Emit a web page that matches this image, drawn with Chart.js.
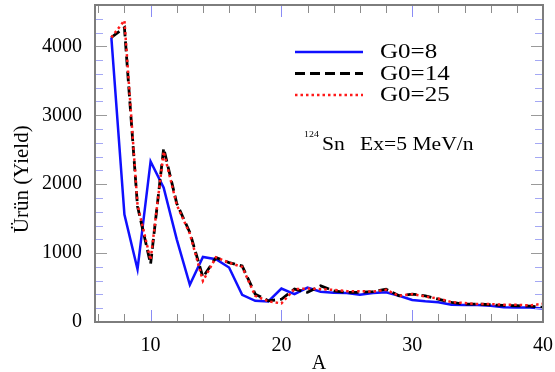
<!DOCTYPE html>
<html>
<head>
<meta charset="utf-8">
<script src="https://cdn.jsdelivr.net/npm/chart.js@4.4.1/dist/chart.umd.min.js"></script>
<style>
  html, body { margin: 0; padding: 0; background: #ffffff; }
  #wrap { width: 555px; height: 372px; position: relative; }
</style>
</head>
<body>
<div id="wrap"><canvas id="yieldChart"></canvas></div>
<script>
// mass number A
const massNumbers = [7, 8, 9, 10, 11, 12, 13, 14, 15, 16, 17, 18, 19, 20, 21, 22, 23,
  24, 25, 26, 27, 28, 29, 30, 31, 32, 33, 34, 35, 36, 37, 38, 39, 40];
// yield for G0=8
const yieldG8 = [4130, 1560, 765, 2330, 1950, 1200, 540, 943, 910, 790, 394, 308, 299,
  486, 404, 500, 440, 425, 420, 395, 420, 430, 380, 320, 300, 285, 250, 245, 245, 235,
  215, 212, 210, 197];
// yield for G0=14
const yieldG14 = [4130, 4270, 1680, 840, 2522, 1720, 1300, 650, 934, 862, 813, 404, 308,
  330, 477, 430, 525, 453, 429, 430, 440, 477, 380, 404, 380, 332, 284, 260, 260, 250,
  240, 236, 230, 212];
// yield for G0=25
const yieldG25 = [4130, 4375, 1700, 900, 2474, 1700, 1280, 596, 940, 860, 800, 380, 300,
  270, 477, 486, 477, 465, 448, 448, 440, 467, 380, 404, 370, 340, 290, 275, 260, 260,
  250, 250, 240, 265];
const seriesNames = ["G0=8", "G0=14", "G0=25"];
const xTickLabels = [10, 20, 30, 40];
const yTickLabels = [0, 1000, 2000, 3000, 4000];

const serif = "'Liberation Serif', 'Times New Roman', serif";

function points(vals) {
  return massNumbers.map((a, i) => ({ x: a, y: vals[i] }));
}

// text drawn a little wider, like the original figure
function wideText(ctx, txt, x, y, sx) {
  ctx.save();
  ctx.translate(x, y);
  ctx.scale(sx, 1);
  ctx.fillText(txt, 0, 0);
  ctx.restore();
}

// frame + inward tick marks on all four sides
const frameTicks = {
  id: "frameTicks",
  afterDraw(chart) {
    const ctx = chart.ctx;
    const a = chart.chartArea;
    const xs = chart.scales.x, ys = chart.scales.y;
    ctx.save();
    ctx.lineWidth = 1;
    for (let v = 6; v <= 40; v += 2) {
      const px = Math.round(xs.getPixelForValue(v)) + 0.5;
      const major = v % 10 === 0;
      const len = major ? 12 : 8;
      ctx.strokeStyle = major ? "#8a8cf5" : "#8c8c8c";
      ctx.beginPath();
      ctx.moveTo(px, a.bottom); ctx.lineTo(px, a.bottom - len);
      ctx.moveTo(px, a.top); ctx.lineTo(px, a.top + len);
      ctx.stroke();
    }
    for (let v = 200; v <= 4400; v += 200) {
      const py = Math.round(ys.getPixelForValue(v)) + 0.5;
      const major = v % 1000 === 0;
      const len = major ? 12 : 8;
      ctx.strokeStyle = major ? "#9a9a9a" : "#a4a8f4";
      ctx.beginPath();
      ctx.moveTo(a.left, py); ctx.lineTo(a.left + len, py);
      ctx.moveTo(a.right, py); ctx.lineTo(a.right - len, py);
      ctx.stroke();
    }
    ctx.strokeStyle = "#7d7d7d";
    ctx.lineWidth = 2;
    ctx.strokeRect(a.left, a.top, a.right - a.left, a.bottom - a.top);
    ctx.restore();
  }
};

// legend and reaction label inside the plot
const legendNote = {
  id: "legendNote",
  afterDraw(chart) {
    const ctx = chart.ctx;
    ctx.save();
    chart.data.datasets.forEach((ds, i) => {
      const y = 52 + i * 21.5;
      ctx.strokeStyle = ds.borderColor;
      ctx.lineWidth = ds.borderWidth;
      ctx.setLineDash(ds.borderDash || []);
      ctx.beginPath();
      ctx.moveTo(295, y); ctx.lineTo(363, y);
      ctx.stroke();
      ctx.setLineDash([]);
      ctx.fillStyle = "#000";
      ctx.font = "20px " + serif;
      ctx.textBaseline = "middle";
      wideText(ctx, ds.label, 380, y + 1, 1.25);
    });
    ctx.textBaseline = "alphabetic";
    ctx.font = "9px " + serif;
    wideText(ctx, "124", 304, 137, 1.1);
    ctx.font = "18px " + serif;
    wideText(ctx, "Sn", 322, 150, 1.2);
    wideText(ctx, "Ex=5 MeV/n", 360, 150, 1.2);
    ctx.restore();
  }
};

new Chart(document.getElementById("yieldChart"), {
  type: "line",
  plugins: [frameTicks, legendNote],
  data: {
    datasets: [
      { label: seriesNames[0], data: points(yieldG8), borderColor: "#1010ff",
        borderWidth: 2.5, order: 3 },
      { label: seriesNames[1], data: points(yieldG14), borderColor: "#000000",
        borderWidth: 2.8, borderDash: [10, 5], order: 2 },
      { label: seriesNames[2], data: points(yieldG25), borderColor: "#ff1a1a",
        borderWidth: 2.5, borderDash: [2.5, 3], order: 1 }
    ]
  },
  options: {
    responsive: true,
    maintainAspectRatio: false,
    animation: false,
    layout: { padding: { top: 5, right: 12, left: 0, bottom: 0 } },
    elements: { point: { radius: 0 }, line: { tension: 0 } },
    plugins: { legend: { display: false }, tooltip: { enabled: false } },
    scales: {
      x: {
        type: "linear",
        min: 5.75,
        max: 40,
        afterBuildTicks: (s) => { s.ticks = xTickLabels.map((v) => ({ value: v })); },
        afterFit: (s) => { s.height = 50; s.paddingLeft = 0; s.paddingRight = 0; },
        grid: { drawOnChartArea: false, drawTicks: false },
        border: { display: false },
        ticks: {
          autoSkip: false,
          maxRotation: 0,
          padding: 12,
          color: "#000",
          font: { family: serif, size: 20 },
          callback: (v) => String(v)
        },
        title: {
          display: true,
          text: "A",
          color: "#000",
          font: { family: serif, size: 20 },
          padding: { top: 0, bottom: -4 }
        }
      },
      y: {
        min: 0,
        max: 4600,
        afterBuildTicks: (s) => { s.ticks = yTickLabels.map((v) => ({ value: v })); },
        afterFit: (s) => { s.width = 95; s.paddingTop = 0; s.paddingBottom = 0; },
        grid: { drawOnChartArea: false, drawTicks: false },
        border: { display: false },
        ticks: {
          autoSkip: false,
          padding: 13,
          color: "#000",
          font: { family: serif, size: 20 },
          callback: (v) => String(v)
        },
        title: {
          display: true,
          text: "Ürün (Yield)\u00a0\u00a0\u00a0\u00a0\u00a0\u00a0",
          color: "#000",
          font: { family: serif, size: 21 },
          padding: { top: 10, bottom: 0 }
        }
      }
    }
  }
});
</script>
</body>
</html>
